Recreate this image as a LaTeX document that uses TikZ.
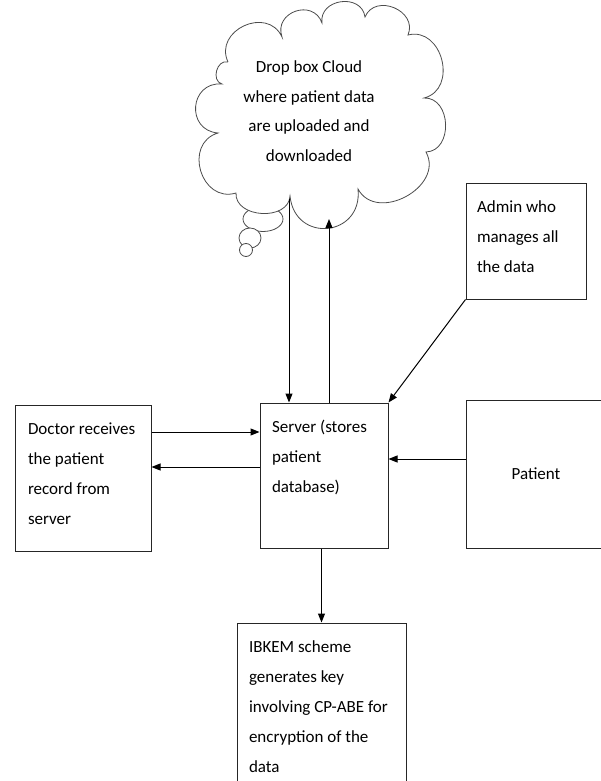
\documentclass[tikz,border=0pt]{standalone}
\usepackage{fontspec}
\setmainfont{Carlito}
\usetikzlibrary{arrows.meta}

\tikzstyle{cbox}  = [draw=black!85, line width=1pt, inner xsep=12pt, inner ysep=0pt,
                     font=\fontsize{17}{30}\selectfont]
\tikzstyle{cpuff} = [draw=black!70, line width=0.8pt, fill=white]
\tikzstyle{carr}  = [-{Triangle[length=9pt,width=7pt]}, line width=1pt]
\def\txt#1#2#3{\parbox[c][#2][t]{#1}{\raggedright\rule{0pt}{29pt}#3}}
\def\puff#1#2{ to[bend left=90, looseness=#1] (#2) }

\begin{document}
\begin{tikzpicture}[x=1pt, y=-1pt]
    \fill[white] (0,0) rectangle (600,781);
    \useasboundingbox (0,0) rectangle (600,781);
    % thought bubbles and cloud
    \draw[cpuff] (263,219) ellipse (20 and 12.5);
    \draw[cpuff] (250,238) ellipse (11 and 10);
    \draw[cpuff] (246,250) circle (6.5);
    \draw[cpuff] (228,62) \puff{1.5}{282,37} \puff{1.6}{322,23} \puff{1.45}{365,17}
      \puff{1.45}{408,35} \puff{1.4}{424,98} \puff{1.3}{426,152} \puff{1.3}{358,189}
      \puff{1.8}{290,196} \puff{1.2}{236,193} \puff{1.5}{218,133} \puff{1.7}{222,84}
      \puff{1.3}{228,62};
    \coordinate (cloud drop) at (289,199);
    \coordinate (cloud up) at (329,219);
    \node[font=\fontsize{17}{29.5}\selectfont, align=center] (cloud) at (309,111)
      {Drop box Cloud\\where patient data\\are uploaded and\\downloaded};
    % boxes
    \node[cbox, inner xsep=13pt] (doctor) at (83,478)
      {\txt{110pt}{146pt}{Doctor receives\\the patient\\record from\\server}};
    \node[cbox] (server) at (324,475.5)
      {\txt{104pt}{145pt}{Server (stores\\patient\\database)}};
    \node[cbox, minimum width=140pt, minimum height=148pt] (patient) at (536,474) {Patient};
    \node[cbox, inner xsep=11pt] (admin) at (526,241)
      {\txt{98pt}{116pt}{Admin who\\manages all\\the data}};
    \node[cbox] (ibkem) at (321.5,706.5)
      {\txt{145pt}{167pt}{IBKEM scheme\\generates key\\involving CP-ABE for\\encryption of the\\data}};
    % connectors
    \draw[carr] (cloud drop) -- (cloud drop |- server.north);
    \draw[carr] (cloud up |- server.north) -- (cloud up);
    \draw[carr] (admin.south west) -- (server.north east);
    \draw[carr] ([yshift=46pt]doctor.east) coordinate (req) -- (req -| server.west);
    \draw[carr] ([yshift=8.5pt]server.west) coordinate (rec) -- (rec -| doctor.east);
    \draw[carr] ([yshift=15pt]patient.west) coordinate (pat) -- (pat -| server.east);
    \draw[carr] (server.south -| ibkem.north) -- (ibkem.north);
\end{tikzpicture}
\end{document}
